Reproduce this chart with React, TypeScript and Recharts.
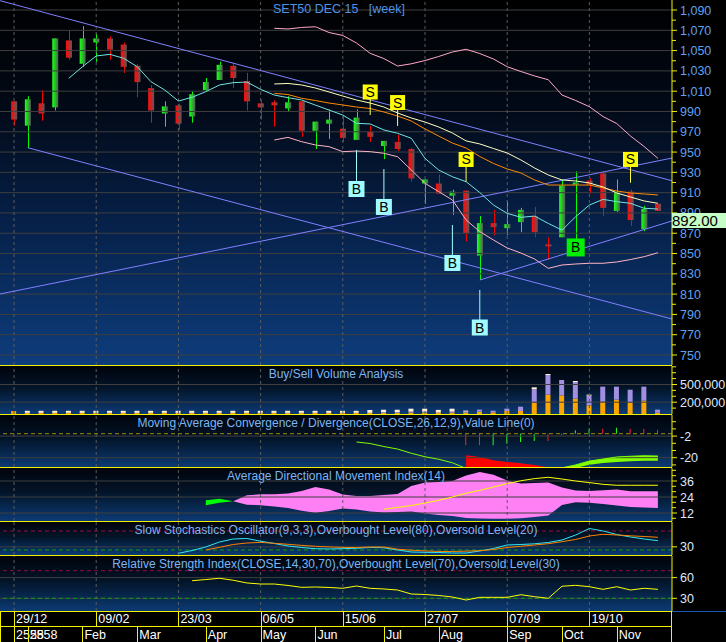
import {
  ComposedChart, Bar, Line, Area, XAxis, YAxis, ReferenceLine, ReferenceDot, Cell,
} from 'recharts'

const FONT = '"Liberation Sans", Arial, sans-serif'
const YELLOW = '#f2f200'
const AXIS_TXT = '#5fa2f0'
const SUB_AXIS_TXT = '#dde8ff'
const TITLE_TXT = '#7cb6f2'
const GRID = '#3e3e3e'
const VGRID = '#5c5c5c'
const X_DOMAIN: [number, number] = [-1.022, 48.03]

// weekly candles, index 0 = week of 29/12
const opens = [1000, 976, 998, 994, 1060, 1037, 1058, 1062, 1056, 1035, 1013, 988, 996, 985, 1011, 1021, 1035, 1020, 998, 999, 993, 1000, 971, 978, 973, 962, 970, 956, 960, 953, 919, 919, 907, 912, 848, 880, 875, 881, 887, 859, 866, 918, 922, 929, 892, 911, 874, 899]
const highs = [1000, 1005, 1011, 1062, 1070, 1074, 1067, 1064, 1058, 1037, 1016, 1000, 998, 1010, 1023, 1039, 1038, 1028, 1002, 1001, 1005, 1000, 980, 992, 986, 992, 976, 961, 967, 954, 923, 928, 913, 912, 887, 893, 902, 895, 896, 866, 923, 931, 924, 931, 923, 913, 897, 899]
const lows = [976, 954, 981, 991, 1041, 1034, 1039, 1041, 1028, 1004, 979, 975, 972, 979, 1010, 1021, 1013, 991, 982, 975, 990, 965, 953, 963, 960, 962, 960, 943, 951, 921, 899, 909, 888, 862, 824, 868, 868, 871, 866, 844, 866, 863, 909, 887, 891, 877, 872, 892]
const closes = [982, 1002, 988, 1062, 1043, 1062, 1062, 1051, 1034, 1019, 991, 995, 978, 1007, 1019, 1036, 1023, 1000, 994, 996, 999, 971, 980, 982, 964, 984, 965, 961, 953, 924, 923, 909, 911, 870, 880, 876, 879, 893, 871, 857, 917, 920, 918, 895, 911, 883, 894, 892]

const N = null
const maFast = [N, N, N, N, 1022.7, 1034.1, 1044.7, 1046.3, 1042.4, 1034.1, 1019.3, 1011.2, 1000.3, 1004, 1009.5, 1016.1, 1018.4, 1019, 1011.8, 1006.2, 1003.6, 1001.3, 996.3, 991.4, 986.5, 978.3, 977.7, 971.8, 968.5, 963.6, 943.8, 932.3, 925.7, 920.8, 910.1, 897.8, 889.6, 885.7, 886.9, 879.7, 873.1, 886.3, 897.8, 903.4, 901.1, 899.5, 894.6, 893.9]
const bandUpper = [N, N, N, N, N, N, N, N, N, N, N, N, N, N, N, N, N, N, N, 1072, 1071.3, 1072.8, 1073.5, 1067.8, 1064.9, 1057.5, 1047.3, 1042.1, 1034.8, 1037, 1040.2, 1044.2, 1048.6, 1051.3, 1047.1, 1041.7, 1034.1, 1029.4, 1025, 1021.3, 1006.2, 1000.8, 994.7, 985, 978.1, 965.8, 955.4, 943.8]
const bandLower = [N, N, N, N, N, N, N, N, N, N, N, N, N, N, N, N, N, N, N, 961.9, 964.5, 960.2, 957, 955.3, 950.4, 951, 950.4, 948.8, 945.4, 932.3, 919.2, 911, 902.8, 883.1, 871.6, 863.3, 855.5, 850.5, 844.6, 835.4, 838.7, 839.7, 840.4, 840.4, 841.7, 844.1, 846.9, 850.8]
const maMid = [N, N, N, N, N, N, N, N, N, N, N, N, N, N, N, N, N, N, N, 1017.1, 1017.6, 1016.1, 1013.1, 1009.2, 1005.2, 1001.3, 998.3, 994.4, 988.5, 983.6, 979.6, 974.7, 968.8, 961, 958, 953.5, 949.1, 942.2, 934.3, 927.4, 922.5, 921.5, 919.5, 915.6, 909.7, 905.7, 901.8, 899.5]
const maSlow = [N, N, N, N, N, N, N, N, N, N, N, N, N, N, N, N, N, N, N, 1007.9, 1006.7, 1003, 1000.8, 998.3, 996.4, 994.4, 992.9, 989.5, 985.5, 980.6, 972.8, 965.8, 958.9, 954, 945.6, 938.8, 933.3, 929.4, 922.5, 917.5, 917.5, 917.5, 917.5, 914.6, 911.6, 909.7, 908.7, 907.7]

// trend lines: [x1, price1, x2, price2]
const trendLines = [
  [-1.022, 1099.2, 48.03, 921.7],
  [1, 954.3, 48.03, 785.5],
  [-1.022, 810.1, 48.03, 944.1],
  [34, 823.9, 48.03, 882.1],
]

const sellIdx = [26, 28, 33, 45]
const sellBox = [1009.2, 998.8, 942.7, 942.7]
const sellTip = [986.5, 975.7, 920.8, 919.8]
const buyIdx = [25, 27, 32, 34, 41]
const buyBox = [913.6, 895.9, 840.7, 777.1, 856]
const buyTip = [952, 933.3, 878.1, 814.1, 863]
const buyStrong = [false, false, false, false, true]

const priceLabels = [750, 770, 790, 810, 830, 850, 870, 890, 910, 930, 950, 970, 990, 1010, 1030, 1050, 1070, 1090]
const priceMinor = [760, 780, 800, 820, 840, 860, 880, 900, 920, 940, 960, 980, 1000, 1020, 1040, 1060, 1080]

// volume (buy / sell / other)
const volBuy = [50000, 20000, 20000, 20000, 20000, 20000, 20000, 20000, 20000, 20000, 20000, 20000, 20000, 20000, 20000, 20000, 20000, 20000, 20000, 20000, 20000, 20000, 20000, 20000, 20000, 20000, 20000, 20000, 20000, 25000, 25000, 25000, 25000, 23000, 40000, 28000, 51000, 51000, 192000, 328000, 316000, 260000, 147000, 209000, 243000, 192000, 226000, 23000]
const volSell = [0, 0, 0, 0, 0, 0, 0, 0, 0, 0, 0, 0, 0, 0, 0, 0, 0, 0, 0, 0, 0, 0, 0, 0, 0, 0, 0, 12000, 12000, 15000, 15000, 0, 15000, 17000, 34000, 28000, 40000, 73000, 226000, 333000, 260000, 282000, 164000, 254000, 220000, 220000, 237000, 51000]
const volOther = [0, 34000, 34000, 34000, 34000, 34000, 34000, 34000, 34000, 34000, 34000, 34000, 34000, 34000, 34000, 34000, 34000, 34000, 34000, 34000, 34000, 34000, 34000, 34000, 34000, 34000, 48000, 40000, 40000, 50000, 50000, 45000, 50000, 17000, 0, 0, 0, 0, 34000, 17000, 0, 17000, 17000, 0, 0, 0, 0, 0]
const volLabels = [200000, 500000]
const volMinor = [100000, 300000, 400000, 600000, 700000, 800000]

// MACD
const macdLine = [N, N, N, N, N, N, N, N, N, N, N, N, N, N, N, N, N, N, N, N, N, N, N, N, N, -6.9, -8.2, -10.7, -12.8, -16.3, -19.2, -21.3, -24.2, -29, -32, -34, -35, -35, -34, -32, -28.5, -26, -22.8, -21.1, -19.4, -18.8, -18.4, -18.6]
const signalLine = [N, N, N, N, N, N, N, N, N, N, N, N, N, N, N, N, N, N, N, N, N, N, N, N, N, N, N, N, N, N, N, N, N, -18, -19.4, -22.2, -23.6, -24.7, -26.1, -28, -29.5, -28.5, -25.8, -24.4, -23.6, -23, -22.6, -22.5]
const macdHist = [N, N, N, N, N, N, N, N, N, N, N, N, N, N, N, N, N, N, N, N, N, N, N, N, N, N, N, N, N, N, N, N, N, -9.7, -9.7, -9.7, -8.3, -6.9, -6.1, -6.1, -0.8, 2.8, 4.2, 4.2, 5, 4.2, 4.2, 3.3]
const histRising = [false, false, true, true, true, true, false, true, true, true, false, true, false, false, false]
const macdLabels = [-2, -20]
const macdMinor = [10, 4, -8, -14, -26]

// ADX(14)
const diPlus = [N, N, N, N, N, N, N, N, N, N, N, N, N, N, 21.5, 22.7, 20.8, 18.2, 17.8, 16.9, 15.7, 13.6, 12.2, 13.5, 15.4, 14.6, 13.1, 12.4, 12.8, 13.1, 11.6, 10.5, 9.8, 8.3, 7.9, 7.7, 7.7, 8.1, 9, 10.1, 18, 20, 19.6, 18.7, 17.6, 16.5, 16.1, 15.7]
const diMinus = [N, N, N, N, N, N, N, N, N, N, N, N, N, N, 17.8, 19.7, 20.8, 25.3, 26, 26, 26.6, 28.5, 31.5, 29.6, 25.9, 24.8, 24.8, 25.5, 26.3, 32.3, 34.9, 35.3, 36, 40.1, 42.8, 40.7, 36.4, 34.1, 34.5, 34.9, 31.1, 28.9, 28.5, 29, 29.6, 28.3, 28.3, 28.3]
const adx = [N, N, N, N, N, N, N, N, N, N, N, N, N, N, N, N, N, N, N, N, N, N, N, N, N, N, N, 14.8, 16.2, 17.6, 19.5, 21.5, 24, 26.8, 29, 31.5, 34, 36.2, 37.8, 38.8, 37.5, 36, 34.8, 33.5, 32.8, 32.8, 32.8, 32.8]
const adxLabels = [12, 24, 36]
const adxMinor = [8, 16, 20, 28, 32, 40, 44]

// slow stochastics
const stochK = [N, N, N, N, N, N, N, N, N, N, N, N, 9.6, 18.4, 29.5, 45.3, 54.7, 56.3, 47.8, 40.5, 32.6, 27.9, 24.1, 23.2, 24.1, 25.4, 27.9, 27, 20, 13.7, 12.7, 12.1, 10.5, 10.5, 16.8, 24.7, 35.8, 37.4, 39.6, 43.7, 51.6, 67.4, 87.9, 80, 68.9, 61, 54.7, 49.4]
const stochD = [N, N, N, N, N, N, N, N, N, N, N, N, N, N, 20, 28.5, 37.4, 42.1, 44, 41.2, 38, 34.5, 31.7, 29.8, 28.2, 27.9, 29.5, 29.5, 22.5, 19.4, 17.2, 15.3, 15.3, 16.5, 17.8, 21.6, 27.9, 31.7, 35.8, 39.9, 46.2, 53.2, 64.2, 69.6, 67.4, 64.8, 62.6, 60.1]

// RSI(14)
const rsi = [N, N, N, N, N, N, N, N, N, N, N, N, N, 55.5, 57.2, 59, 56.2, 52.2, 50.7, 50.7, 48.6, 45.9, 46.4, 45.7, 44.5, 47.8, 44.5, 43.5, 42, 36.2, 35.5, 34.1, 31.9, 27.5, 31.4, 31.4, 31.4, 35.2, 32.3, 30, 47.5, 48.8, 46.8, 43, 46.8, 42, 44.5, 43]

const weekIdx = [0, 6, 12, 18, 24, 30, 36, 42]
const weekLabels = ['29/12', '09/02', '23/03', '06/05', '15/06', '27/07', '07/09', '19/10']
const monthIdx = [0, 1, 5, 9, 14, 18, 22, 27, 31, 36, 40, 44]
const monthLabels = ['2558', '2558', 'Feb', 'Mar', 'Apr', 'May', 'Jun', 'Jul', 'Aug', 'Sep', 'Oct', 'Nov']

const rows = opens.map((o, i) => {
  const m = macdLine[i], s = signalLine[i]
  const p = diPlus[i], n = diMinus[i]
  return {
    i, open: o, high: highs[i], low: lows[i], close: closes[i],
    maFast: maFast[i], bandUpper: bandUpper[i], bandLower: bandLower[i], maMid: maMid[i], maSlow: maSlow[i],
    buy: volBuy[i], sell: volSell[i], other: volOther[i],
    macd: m, hist: macdHist[i],
    redBand: m != null && s != null && m <= s ? [m, s] : null,
    greenBand: m != null && s != null && m >= s ? [s, m] : null,
    pinkDI: p != null && n != null && n >= p ? [p, n] : null,
    greenDI: p != null && n != null && p >= n ? [n, p] : null,
    adx: adx[i], k: stochK[i], d: stochD[i], rsi: rsi[i],
  }
})
const allIdx = rows.map((r) => r.i)

function AxisTick(props: any) {
  const { x, y, payload, labels, color } = props
  const v = payload.value
  const major = labels.includes(v)
  return (
    <g>
      <line x1={x} x2={x + (major ? 5 : 4)} y1={y} y2={y} stroke={YELLOW} />
      {major && (
        <text x={x + 8} y={y} dy={4.5} fill={color} fontSize={12.5} fontFamily={FONT}>
          {v.toLocaleString('en-US')}
        </text>
      )}
    </g>
  )
}

// separator + label of the date rows under the chart
function RowLabel(props: any) {
  const { cx, cy, text, h } = props
  const lx = Math.round(cx) + 0.5
  return (
    <g>
      <line x1={lx} x2={lx} y1={cy - h / 2} y2={cy + h / 2} stroke={YELLOW} />
      <text x={cx + 2} y={cy} dy={4.5} fill="#ffffff" fontSize={12.5} fontFamily={FONT}>{text}</text>
    </g>
  )
}

function Candle(props: any) {
  const { x, y, width, height, payload } = props
  const { open, close, high, low } = payload
  const up = close >= open
  const k = height / (high - low || 1)
  const py = (p: number) => y + (high - p) * k
  const top = py(Math.max(open, close))
  const bot = py(Math.min(open, close))
  const cx = Math.round(x + width / 2) + 0.5
  return (
    <g>
      <line x1={cx} x2={cx} y1={y} y2={y + height} stroke={up ? '#00ff00' : '#ff0000'} />
      <rect x={x} y={top} width={width} height={Math.max(bot - top, 1.5)} fill={up ? 'url(#gUp)' : 'url(#gDn)'} />
    </g>
  )
}

function Marker(props: any) {
  const { cx, cy, text, fill, size } = props
  return (
    <g>
      <rect x={cx - size / 2} y={cy - size / 2} width={size} height={size} fill={fill} />
      <text x={cx} y={cy} dy={5} textAnchor="middle" fontSize={14} fontFamily={FONT} fill="#000">{text}</text>
    </g>
  )
}

function yAxisFor(domain: [number, number], labels: number[], minor: number[], color = SUB_AXIS_TXT) {
  return (
    <YAxis
      orientation="right" width={54} type="number" domain={domain} allowDataOverflow
      ticks={[...labels, ...minor]} interval={0} tickSize={0} tickMargin={0}
      axisLine={{ stroke: YELLOW }} tickLine={false}
      tick={(p: any) => <AxisTick {...p} labels={labels} color={color} />}
    />
  )
}

function gridLines(values: number[]) {
  return values.map((v) => <ReferenceLine key={'h' + v} y={v} stroke={GRID} />)
}

function weekGrid() {
  return weekIdx.map((v) => <ReferenceLine key={'v' + v} x={v} stroke={VGRID} strokeDasharray="3 3" />)
}

const hiddenX = <XAxis type="number" dataKey="i" domain={X_DOMAIN} allowDataOverflow hide ticks={allIdx} />
const margin = { top: 0, right: 0, bottom: 0, left: 0 }

function Title({ y, children }: { y: number; children: any }) {
  return (
    <div style={{
      position: 'absolute', left: 0, top: y - 8, width: 672, textAlign: 'center',
      color: TITLE_TXT, font: `12px ${FONT}`, lineHeight: '16px', whiteSpace: 'pre',
    }}>{children}</div>
  )
}

function Panel({ top, h, bg, children }: { top: number; h: number; bg: string; children: any }) {
  return (
    <div style={{ position: 'absolute', left: 0, top, width: 726, height: h }}>
      <div style={{ position: 'absolute', left: 0, top: 0, width: 672, height: h, background: bg }} />
      <div style={{ position: 'absolute', left: 0, top: 0 }}>{children}</div>
    </div>
  )
}

const subBg = 'linear-gradient(to bottom, #00040c 0%, #031428 45%, #0c3a74 100%)'

export default function App() {
  return (
    <div style={{ position: 'relative', width: 726, height: 642, background: '#000', overflow: 'hidden', fontFamily: FONT }}>
      <style>{'body{margin:0;background:#000}'}</style>

      <Panel top={0} h={365} bg="linear-gradient(to bottom, #000000 0%, #020a18 30%, #06214a 62%, #0e3d7c 100%)">
        <ComposedChart width={726} height={365} data={rows} margin={margin}>
          <defs>
            <linearGradient id="gUp" x1="0" y1="0" x2="1" y2="0">
              <stop offset="0%" stopColor="#20ff20" />
              <stop offset="35%" stopColor="#1ed81e" />
              <stop offset="100%" stopColor="#5a5a5a" />
            </linearGradient>
            <linearGradient id="gDn" x1="0" y1="0" x2="1" y2="0">
              <stop offset="0%" stopColor="#ff1010" />
              <stop offset="35%" stopColor="#dc1a1a" />
              <stop offset="100%" stopColor="#5a5a5a" />
            </linearGradient>
          </defs>
          {hiddenX}
          {yAxisFor([740.15, 1099.86], priceLabels, priceMinor, AXIS_TXT)}
          {gridLines(priceLabels)}
          {weekGrid()}
          {trendLines.map((t, k) => (
            <ReferenceLine key={'t' + k} segment={[{ x: t[0], y: t[1] }, { x: t[2], y: t[3] }]} stroke="#8080ff" ifOverflow="hidden" />
          ))}
          <Line dataKey="bandUpper" stroke="#ffa8c8" dot={false} strokeWidth={1} isAnimationActive={false} />
          <Line dataKey="bandLower" stroke="#ffb4c4" dot={false} strokeWidth={1} isAnimationActive={false} />
          <Line dataKey="maSlow" stroke="#ff8a00" dot={false} strokeWidth={1} isAnimationActive={false} />
          <Line dataKey="maMid" stroke="#ffffc0" dot={false} strokeWidth={1} isAnimationActive={false} />
          <Line dataKey="maFast" stroke="#70e4e0" dot={false} strokeWidth={1} isAnimationActive={false} />
          <Bar dataKey={(d: any) => [d.low, d.high]} barSize={6} shape={Candle} isAnimationActive={false} />
          {sellIdx.map((x, k) => (
            <ReferenceLine key={'ss' + k} segment={[{ x, y: sellTip[k] }, { x, y: sellBox[k] }]} stroke="#ffff50" />
          ))}
          {buyIdx.map((x, k) => (
            <ReferenceLine key={'bs' + k} segment={[{ x, y: buyTip[k] }, { x, y: buyBox[k] }]} stroke={buyStrong[k] ? '#00ff00' : '#a0ffff'} />
          ))}
          {sellIdx.map((x, k) => (
            <ReferenceDot key={'sd' + k} x={x} y={sellBox[k]} r={1} ifOverflow="visible"
              shape={(p: any) => <Marker {...p} text="S" fill="#ffff00" size={15} />} />
          ))}
          {buyIdx.map((x, k) => (
            <ReferenceDot key={'bd' + k} x={x} y={buyBox[k]} r={1} ifOverflow="visible"
              shape={(p: any) => <Marker {...p} text="B" fill={buyStrong[k] ? '#00f000' : '#9ffcff'} size={buyStrong[k] ? 18 : 16} />} />
          ))}
        </ComposedChart>
      </Panel>

      <Panel top={366} h={48} bg={subBg}>
        <ComposedChart width={726} height={48} data={rows} margin={margin}>
          {hiddenX}
          {yAxisFor([0, 813600], volLabels, volMinor)}
          {gridLines(volLabels)}
          {weekGrid()}
          <Bar dataKey="buy" stackId="v" fill="#ffa500" barSize={5} isAnimationActive={false} />
          <Bar dataKey="sell" stackId="v" fill="#a28fe2" barSize={5} isAnimationActive={false} />
          <Bar dataKey="other" stackId="v" fill="#fff2d8" barSize={5} isAnimationActive={false} />
        </ComposedChart>
      </Panel>

      <Panel top={415} h={52} bg={subBg}>
        <ComposedChart width={726} height={52} data={rows} margin={margin}>
          {hiddenX}
          {yAxisFor([-27.75, 15.58], macdLabels, macdMinor)}
          {gridLines(macdLabels)}
          {weekGrid()}
          <ReferenceLine y={0} stroke="#a08c00" strokeDasharray="4 3" />
          <Area dataKey="redBand" stroke="none" fill="#ff0000" fillOpacity={1} isAnimationActive={false} />
          <Area dataKey="greenBand" stroke="none" fill="#80ff00" fillOpacity={1} isAnimationActive={false} />
          <Line dataKey="macd" stroke="#80ff00" dot={false} strokeWidth={1} isAnimationActive={false} />
          <Bar dataKey="hist" barSize={1} isAnimationActive={false}>
            {rows.map((r) => {
              const k = r.i - 33
              return <Cell key={r.i} fill={k >= 0 && histRising[k] ? '#20ff20' : '#ff2020'} />
            })}
          </Bar>
        </ComposedChart>
      </Panel>

      <Panel top={468} h={53} bg={subBg}>
        <ComposedChart width={726} height={53} data={rows} margin={margin}>
          {hiddenX}
          {yAxisFor([6, 45.75], adxLabels, adxMinor)}
          {weekGrid()}
          <Area dataKey="pinkDI" stroke="none" fill="#ff80f4" fillOpacity={1} isAnimationActive={false} />
          <Area dataKey="greenDI" stroke="none" fill="#00ff00" fillOpacity={1} isAnimationActive={false} />
          {gridLines(adxLabels)}
          <Line dataKey="adx" stroke="#ffff00" dot={false} strokeWidth={1} isAnimationActive={false} />
        </ComposedChart>
      </Panel>

      <Panel top={522} h={33} bg={subBg}>
        <ComposedChart width={726} height={33} data={rows} margin={margin}>
          {hiddenX}
          {yAxisFor([4.2, 108.4], [30], [])}
          {gridLines([30])}
          {weekGrid()}
          <ReferenceLine y={80} stroke="#9a0a44" strokeDasharray="4 3" />
          <ReferenceLine y={20} stroke="#10a010" strokeDasharray="4 3" />
          <Line dataKey="k" stroke="#30e8f0" dot={false} strokeWidth={1} isAnimationActive={false} />
          <Line dataKey="d" stroke="#ff8000" dot={false} strokeWidth={1} isAnimationActive={false} />
        </ComposedChart>
      </Panel>

      <Panel top={556} h={55} bg={subBg}>
        <ComposedChart width={726} height={55} data={rows} margin={margin}>
          {hiddenX}
          {yAxisFor([11.6, 91.3], [60, 30], [])}
          {gridLines([60, 30])}
          {weekGrid()}
          <ReferenceLine y={70} stroke="#9a0a44" strokeDasharray="4 3" />
          <ReferenceLine y={30} stroke="#10a010" strokeDasharray="4 3" />
          <Line dataKey="rsi" stroke="#ffff00" dot={false} strokeWidth={1} isAnimationActive={false} />
        </ComposedChart>
      </Panel>

      {/* date rows: week starts on top, months below */}
      <Panel top={611} h={31} bg="#000">
        <ComposedChart width={726} height={31} data={rows} margin={{ top: 0, right: 54, bottom: 0, left: 0 }}>
          {hiddenX}
          <YAxis type="number" domain={[0, 31]} allowDataOverflow hide />
          {weekIdx.map((x, k) => (
            <ReferenceDot key={'w' + k} x={x} y={23.5} r={1} ifOverflow="visible"
              shape={(p: any) => <RowLabel {...p} text={weekLabels[k]} h={15} />} />
          ))}
          {monthIdx.map((x, k) => (
            <ReferenceDot key={'m' + k} x={x} y={8} r={1} ifOverflow="visible"
              shape={(p: any) => <RowLabel {...p} text={monthLabels[k]} h={16} />} />
          ))}
        </ComposedChart>
      </Panel>

      {[365, 414, 467, 521, 555, 611, 626].map((y) => (
        <div key={y} style={{ position: 'absolute', left: 0, top: y, width: 672, height: 1, background: YELLOW }} />
      ))}
      <div style={{ position: 'absolute', left: 671, top: 611, width: 1, height: 31, background: YELLOW }} />
      <div style={{ position: 'absolute', left: 0, top: 611, width: 1, height: 31, background: YELLOW }} />
      <div style={{ position: 'absolute', left: 672, top: 611, width: 54, height: 1, background: '#1a5ab0' }} />

      <div style={{ position: 'absolute', left: 273, top: 2, color: '#4f94ea', font: `12.5px ${FONT}`, whiteSpace: 'pre' }}>
        {'SET50 DEC 15   [week]'}
      </div>
      <div style={{
        position: 'absolute', left: 672, top: 213, width: 54, height: 15, background: '#c6fcc6',
        color: '#000', font: `15px ${FONT}`, lineHeight: '15px',
      }}>{closes[closes.length - 1].toFixed(2)}</div>

      <Title y={374}>Buy/Sell Volume Analysis</Title>
      <Title y={423}>Moving Average Convergence / Divergence(CLOSE,26,12,9),Value Line(0)</Title>
      <Title y={476}>Average Directional Movement Index(14)</Title>
      <Title y={530}>Slow Stochastics Oscillator(9,3,3),Overbought Level(80),Oversold Level(20)</Title>
      <Title y={564}>Relative Strength Index(CLOSE,14,30,70),Overbought Level(70),Oversold Level(30)</Title>
    </div>
  )
}
